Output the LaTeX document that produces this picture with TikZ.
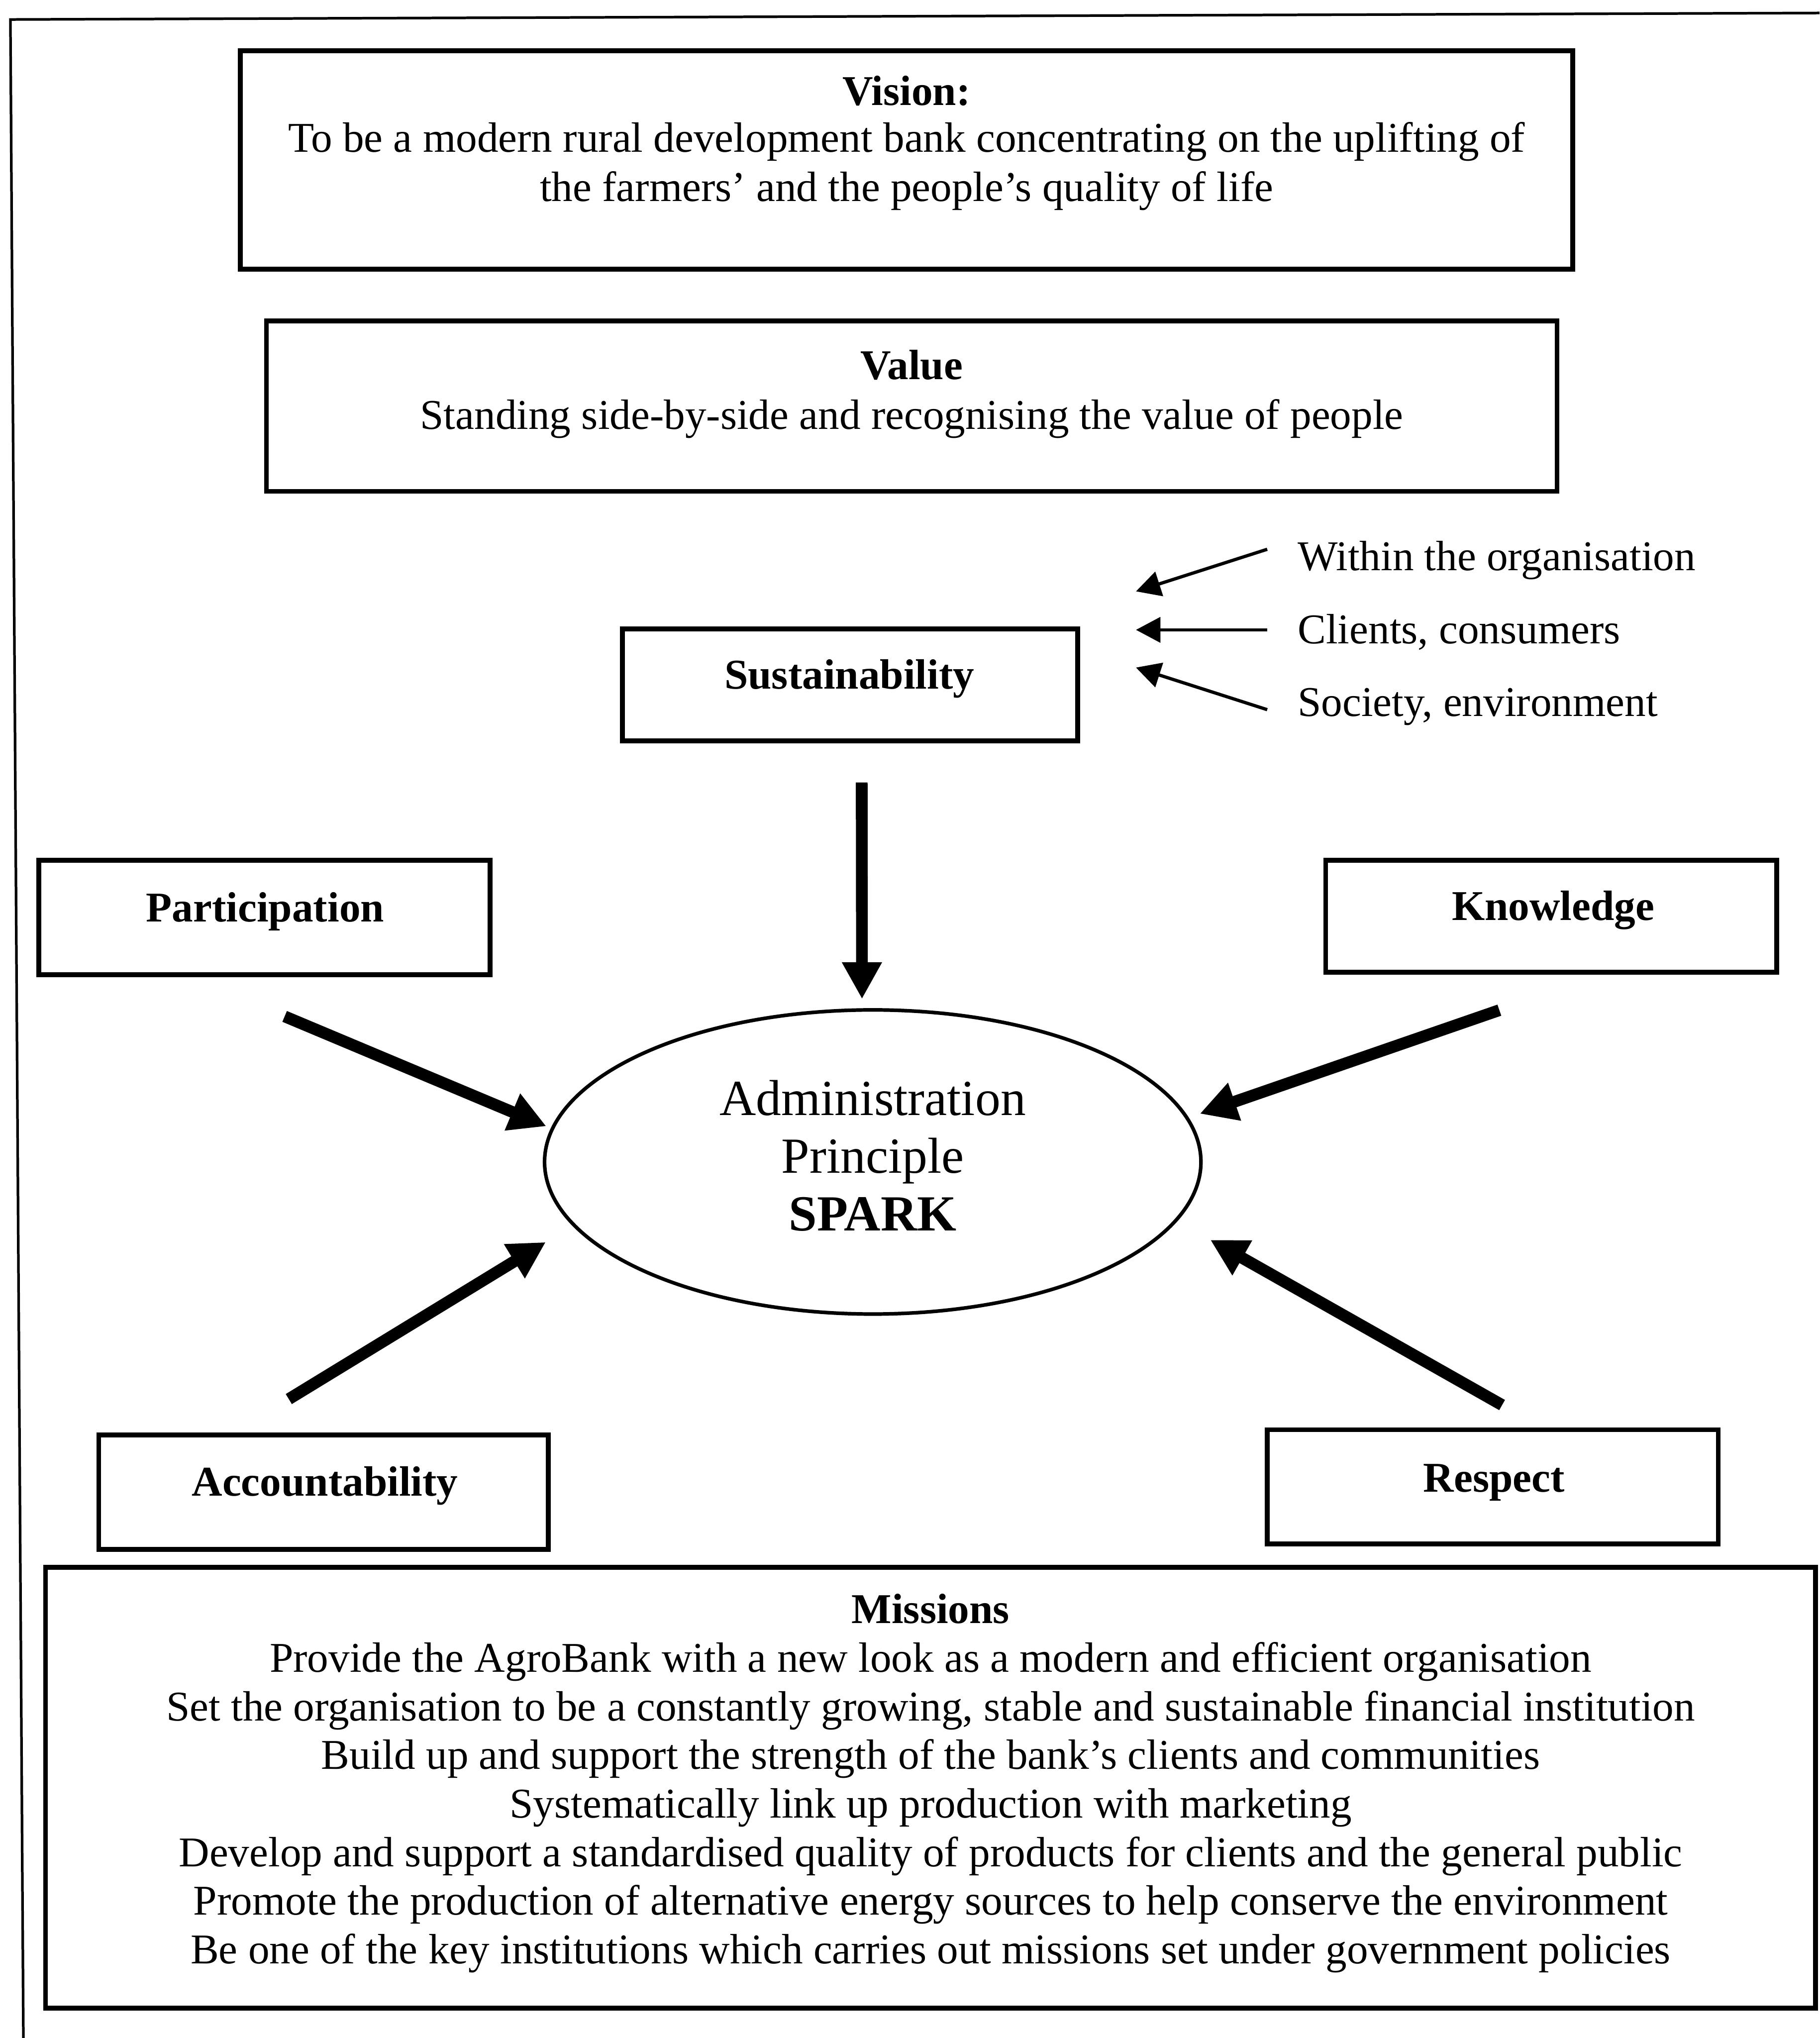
\documentclass[tikz,border=0pt]{standalone}
\usepackage{fontspec}
\setmainfont{Liberation Serif}
\usetikzlibrary{arrows.meta,shapes.geometric}
\newcommand\pxu{0.014cm}
\tikzset{
  box/.style={draw, line width=1.5pt, inner sep=0pt},
  txt/.style={anchor=base, inner sep=0pt, font=\fontsize{13}{15}\selectfont},
  hd/.style={txt, font=\fontsize{13}{15}\selectfont\bfseries},
  bigarrow/.style={line width=3.6pt, -{Triangle[length=11.3pt,width=11.5pt]}},
  smallarrow/.style={line width=1pt, -{Triangle[length=7.5pt,width=7.7pt]}}
}
\begin{document}
\begin{tikzpicture}[x=\pxu, y=-\pxu]
    \useasboundingbox (0,0) rectangle (1400,1568);
    % outer frame, only top and left edge are left
    \draw[line width=0.8pt] (1400,10) -- (8,15) -- (18,1568);

    % boxes
    \node[box, minimum width=1025*\pxu, minimum height=168*\pxu] (vision) at (697.5,123) {};
    \node[box, minimum width=993*\pxu, minimum height=131*\pxu] (value) at (701.5,312.5) {};
    \node[box, minimum width=350*\pxu, minimum height=86*\pxu] (sust) at (654,527) {};
    \node[box, minimum width=347*\pxu, minimum height=88*\pxu] (part) at (203.5,706) {};
    \node[box, minimum width=347*\pxu, minimum height=86*\pxu] (know) at (1193.5,705) {};
    \node[box, minimum width=346*\pxu, minimum height=88*\pxu] (acc) at (249,1148) {};
    \node[box, minimum width=347*\pxu, minimum height=88*\pxu] (resp) at (1148.5,1144) {};
    \node[box, minimum width=1362*\pxu, minimum height=339*\pxu] (missions) at (716,1375.5) {};

    % texts
    \node[hd] (visionhd) at (697.5,81) {Vision:};
    \node[txt] (vision1) at (697.5,117) {To be a modern rural development bank concentrating on the uplifting of};
    \node[txt] (vision2) at (697.5,155) {the farmers’ and the people’s quality of life};
    \node[hd] (valuehd) at (701.5,292) {Value};
    \node[txt] (value1) at (701.5,330) {Standing side-by-side and recognising the value of people};
    \node[hd] (susttxt) at (653.5,530) {Sustainability};
    \node[hd] (parttxt) at (204,709) {Participation};
    \node[hd] (knowtxt) at (1195,708) {Knowledge};
    \node[hd] (acctxt) at (250,1151) {Accountability};
    \node[hd] (resptxt) at (1149.5,1148) {Respect};

    \node[txt, anchor=base west] (within) at (998,439) {Within the organisation};
    \node[txt, anchor=base west] (clients) at (998,495) {Clients, consumers};
    \node[txt, anchor=base west] (society) at (998,551) {Society, environment};

    \node[hd] (missionshd) at (716,1249) {Missions};
    \foreach \mline [count=\i] in {
        {Provide the AgroBank with a new look as a modern and efficient organisation},
        {Set the organisation to be a constantly growing, stable and sustainable financial institution},
        {Build up and support the strength of the bank’s clients and communities},
        {Systematically link up production with marketing},
        {Develop and support a standardised quality of products for clients and the general public},
        {Promote the production of alternative energy sources to help conserve the environment},
        {Be one of the key institutions which carries out missions set under government policies}}
        {
            \node[txt] (mis\i) at (716,1249+\i*37.4) {\mline};
        }

    % centre
    \node[draw, ellipse, line width=1.1pt, inner sep=0pt, align=center,
          minimum width=505*\pxu, minimum height=234*\pxu, text depth=4pt,
          font=\fontsize{15.5}{17.7}\selectfont] (spark) at (671.5,894)
          {Administration\\Principle\\\textbf{SPARK}};

    % small arrows into sustainability
    \foreach \nm/\ty/\hy in {within/422.6/455, clients/484.6/484.6, society/546/513.6}
        {
            \coordinate (\nm-tail) at (975,\ty);
            \coordinate (\nm-tip) at (874,\hy);
            \draw[smallarrow] (\nm-tail) -- (\nm-tip);
        }

    % big arrows into the ellipse
    \coordinate (sustTail) at (663,602);
    \coordinate (partTail) at (219,782);
    \coordinate (knowTail) at (1153.6,777.2);
    \coordinate (accTail) at (222.2,1076.4);
    \coordinate (respTail) at (1155.7,1081);
    \draw[bigarrow, shorten >=2.8pt] (sustTail) -- (spark.94);
    \draw[bigarrow, shorten >=1.5pt] (partTail) -- (spark.174);
    \draw[bigarrow, shorten >=3.6pt] (knowTail) -- (spark.8);
    \draw[bigarrow, shorten >=9.6pt] (accTail) -- (spark.192);
    \draw[bigarrow, shorten >=11.6pt] (respTail) -- (spark.349);
\end{tikzpicture}
\end{document}
